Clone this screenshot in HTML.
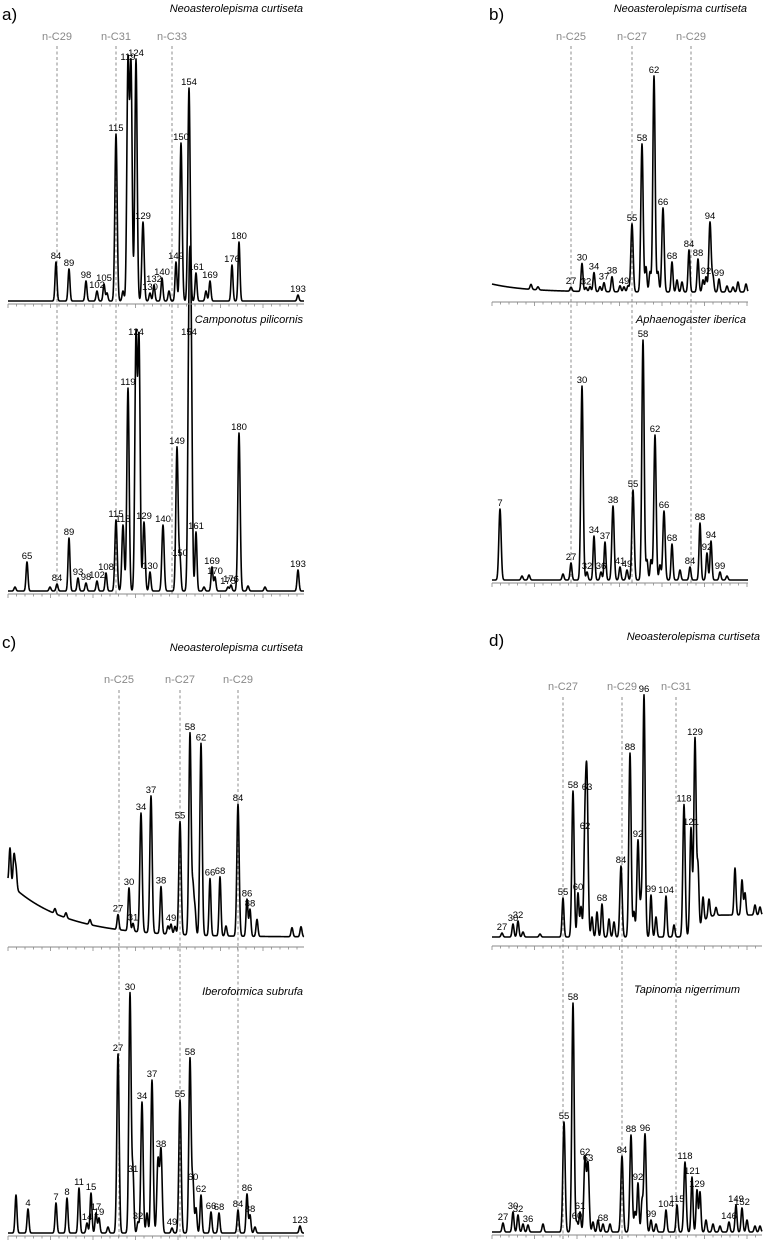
<!DOCTYPE html>
<html><head><meta charset="utf-8"><style>
html,body{margin:0;padding:0;background:#fff}
svg{display:block}
text{font-family:"Liberation Sans",sans-serif}
</style></head><body>
<svg id="fig" width="774" height="1240" viewBox="0 0 774 1240" xmlns="http://www.w3.org/2000/svg"></svg>
<script>
// ---- panel a, top: Neoasterolepisma curtiseta ----
const aTopRt  = [56,69,86,97,104,107,116,123,128,131,136,143,150,154,162,169,176,181,189,196,206,210,232,239,298];
const aTopInt = [39,32,20,10,17,8,167,10,238,234,242,79,8,16,23,10,39,158,213,28,10,20,36,59,6];
const aTopLbl = ['84','89','98','102','105','','115','','119','','124','129','130','132','140','','149','150','154','161','','169','176','180','193'];
// ---- panel a, bottom: Camponotus pilicornis ----
const aBotRt  = [15,27,50,57,69,78,86,97,106,116,123,128,136,139,144,150,163,177,180,189,191,196,204,212,215,228,231,239,248,265,298];
const aBotInt = [4,29,4,7,53,13,8,10,18,71,66,203,253,250,69,19,66,144,32,253,250,59,4,24,14,4,6,158,5,4,21];
const aBotLbl = ['','65','','84','89','93','98','102','108','115','118','119','124','','129','130','140','149','150','154','','161','','169','170','175','176','180','','','193'];
// ---- panel b, top ----
const bTopRt  = [531,538,571,582,586,590,594,600,604,612,620,624,628,632,642,646,650,654,658,663,672,677,682,689,698,703,706,710,713,719,727,733,738,746];
const bTopInt = [5,3,4,28,4,5,19,5,9,15,6,5,6,68,148,25,20,216,20,84,30,12,10,42,33,12,15,70,15,13,6,5,10,8];
const bTopLbl = ['','','27','30','32','','34','','37','38','','49','','55','58','','','62','','66','68','','','84','88','','92','94','','99','','','',''];
// ---- panel b, bottom: Aphaenogaster iberica ----
const bBotRt  = [500,522,529,563,571,582,587,594,601,605,613,620,627,633,643,647,651,655,660,664,672,680,690,700,707,711,720,727];
const bBotInt = [71,4,5,6,17,194,8,44,8,38,74,13,10,90,240,20,20,145,15,69,36,10,13,57,27,39,8,4];
const bBotLbl = ['7','','','','27','30','32','34','36','37','38','41','49','55','58','','','62','','66','68','','84','88','92','94','99',''];
// ---- panel c, top ----
const cTopRt  = [10,14,16,55,66,90,118,129,133,141,151,161,168,171,175,180,190,193,195,201,210,220,226,238,247,250,257,292,301];
const cTopInt = [36,32,20,5,5,5,15,43,8,119,137,47,8,10,8,113,202,45,25,192,57,59,10,132,37,27,17,9,10];
const cTopLbl = ['','','','','','','27','30','31','34','37','38','','49','','55','58','','','62','66','68','','84','86','88','','',''];
// ---- panel c, bottom: Iberoformica subrufa ----
const cBotRt  = [16,28,56,67,79,87,91,96,99,108,118,130,133,138,142,147,152,158,161,172,180,190,193,196,201,211,219,238,247,250,255,300];
const cBotInt = [38,24,30,35,45,10,40,20,15,6,179,240,58,11,131,20,153,73,83,5,133,175,50,25,38,21,20,23,39,18,6,7];
const cBotLbl = ['','4','7','8','11','14','15','17','19','','27','30','31','32','34','','37','','38','49','55','58','60','','62','66','68','84','86','88','','123'];
// ---- panel d, top ----
const dTopRt  = [502,513,518,523,540,563,573,578,581,585,587,592,597,602,609,614,621,630,634,638,641,644,651,656,666,674,684,691,695,698,703,709,716,735,742,745,755,760];
const dTopInt = [4,13,16,5,3,39,146,44,30,105,144,20,25,33,18,15,71,184,25,97,30,242,42,20,41,12,132,107,194,60,25,18,8,47,35,22,10,8];
const dTopLbl = ['27','30','32','','','55','58','60','','62','63','','','68','','','84','88','','92','','96','99','','104','','118','121','129','','','','','','','','',''];
// ---- panel d, bottom: Tapinoma nigerrimum ----
const dBotRt  = [503,513,518,523,528,543,564,573,577,580,585,588,593,598,603,610,622,631,635,638,642,645,651,656,666,677,685,692,697,700,706,713,720,729,736,742,747,755,760];
const dBotInt = [9,20,17,8,7,8,110,229,10,20,74,68,10,12,8,8,76,97,20,49,30,98,12,8,22,27,70,55,42,40,12,8,6,10,27,24,12,6,6];
const dBotLbl = ['27','30','32','','36','','55','58','60','61','62','63','','','68','','84','88','','92','','96','99','','104','115','118','121','129','','','','','146','149','152','','',''];
// n-alkane markers
const aMarkRt = [57,116,172]; const aMarkLbl = ['n-C29','n-C31','n-C33'];
const bMarkRt = [571,632,691]; const bMarkLbl = ['n-C25','n-C27','n-C29'];
const cMarkRt = [119,180,238]; const cMarkLbl = ['n-C25','n-C27','n-C29'];
const dMarkRt = [563,622,676]; const dMarkLbl = ['n-C27','n-C29','n-C31'];

const NS = 'http://www.w3.org/2000/svg';
const svg = document.getElementById('fig');
function mk(tag, attrs, parent){
  const e = document.createElementNS(NS, tag);
  for (const k in attrs) e.setAttribute(k, attrs[k]);
  (parent||svg).appendChild(e);
  return e;
}
function linScale(d0,d1,r0,r1){ return v => r0 + (v-d0)*(r1-r0)/(d1-d0); }

function drawAxis(x0,x1,y,name){
  const g = mk('g',{});
  
  
  mk('line',{x1:x0,x2:x1,y1:y,y2:y,stroke:'#8a8a8a','stroke-width':1},g);
  let i=0;
  for (let x=x0; x<=x1; x+=8.5, i++){
    mk('line',{x1:x,x2:x,y1:y,y2:y+(i%5===0?4:2.5),stroke:'#8a8a8a','stroke-width':0.8},g);
  }
}

function drawChrom(rt, inten, lbl, x0, x1, baseY, baseFn, name){
  const xs = linScale(x0, x1, x0, x1);
  const ys = v => baseY - v;
  const g = mk('g',{});
  
  
  let d = '';
  for (let x=x0; x<=x1; x+=0.25){
    let v = baseFn(x);
    for (let i=0;i<rt.length;i++){
      const px = xs(rt[i]);
      const s = inten[i] > 60 ? 1.15 : 0.95;
      const dx = x-px;
      if (Math.abs(dx) < 7) v += inten[i]*Math.exp(-dx*dx/(2*s*s));
    }
    d += (d?'L':'M') + x.toFixed(2) + ' ' + ys(v).toFixed(2);
  }
  const p = mk('path',{d:d,fill:'none',stroke:'#000','stroke-width':1.6,'stroke-linejoin':'round'},g);
  
  
  for (let i=0;i<rt.length;i++){
    if (!lbl[i]) continue;
    const t = mk('text',{x:xs(rt[i]),y:ys(inten[i]+baseFn(xs(rt[i])))-3,'font-size':9.5,'text-anchor':'middle',fill:'#000'},g);
    t.textContent = lbl[i];
    
    
  }
}

function drawMarkers(rt, lbl, x0, x1, labelY, y0, y1, name){
  const xs = linScale(x0, x1, x0, x1);
  for (let i=0;i<rt.length;i++){
    const x = xs(rt[i]);
    const l = mk('line',{x1:x,x2:x,y1:y0,y2:y1,stroke:'#8c8c8c','stroke-width':1,'stroke-dasharray':'3,2.5'});
    
    
    const t = mk('text',{x:x,y:labelY,'font-size':11,'text-anchor':'middle',fill:'#888'});
    t.textContent = lbl[i];
    
    
  }
}
function txt(x,y,s,size,anchor,style,name,weight){
  const t = mk('text',{x:x,y:y,'font-size':size,'text-anchor':anchor,fill:'#000'});
  if (style) t.setAttribute('font-style', style);
  if (weight) t.setAttribute('font-weight', weight);
  t.textContent = s;
  
  
}

const flat = v => (x => v);

// Panel a
drawMarkers(aMarkRt, aMarkLbl, 8, 304, 40, 46, 596, 'panel-a-alkane');
drawChrom(aTopRt, aTopInt, aTopLbl, 8, 304, 301, flat(0), 'panel-a-top-chromatogram');
drawChrom(aBotRt, aBotInt, aBotLbl, 8, 304, 591, flat(0), 'panel-a-bottom-chromatogram');
drawAxis(8, 304, 304, 'panel-a-top-axis');
drawAxis(8, 304, 594, 'panel-a-bottom-axis');
txt(2, 20, 'a)', 17, 'start', null, 'panel-a-label');
txt(303, 12, 'Neoasterolepisma curtiseta', 11, 'end', 'italic', 'panel-a-top-title');
txt(303, 323, 'Camponotus pilicornis', 11, 'end', 'italic', 'panel-a-bottom-title');

// Panel b
drawMarkers(bMarkRt, bMarkLbl, 492, 748, 40, 46, 585, 'panel-b-alkane');
drawChrom(bTopRt, bTopInt, bTopLbl, 492, 748, 292, x => 8*Math.exp(-(x-492)/35), 'panel-b-top-chromatogram');
drawChrom(bBotRt, bBotInt, bBotLbl, 492, 748, 580, flat(0), 'panel-b-bottom-chromatogram');
drawAxis(492, 748, 302, 'panel-b-top-axis');
drawAxis(492, 748, 583, 'panel-b-bottom-axis');
txt(489, 20, 'b)', 17, 'start', null, 'panel-b-label');
txt(747, 12, 'Neoasterolepisma curtiseta', 11, 'end', 'italic', 'panel-b-top-title');
txt(746, 323, 'Aphaenogaster iberica', 11, 'end', 'italic', 'panel-b-bottom-title');

// Panel c
drawMarkers(cMarkRt, cMarkLbl, 8, 304, 683, 690, 1240, 'panel-c-alkane');
drawChrom(cTopRt, cTopInt, cTopLbl, 8, 304, 937, x => 55*Math.exp(-(x-8)/55), 'panel-c-top-chromatogram');
drawChrom(cBotRt, cBotInt, cBotLbl, 8, 304, 1233, flat(0), 'panel-c-bottom-chromatogram');
drawAxis(8, 304, 947, 'panel-c-top-axis');
drawAxis(8, 304, 1236, 'panel-c-bottom-axis');
txt(2, 648, 'c)', 17, 'start', null, 'panel-c-label');
txt(303, 651, 'Neoasterolepisma curtiseta', 11, 'end', 'italic', 'panel-c-top-title');
txt(303, 995, 'Iberoformica subrufa', 11, 'end', 'italic', 'panel-c-bottom-title');

// Panel d
drawMarkers(dMarkRt, dMarkLbl, 492, 762, 690, 697, 1240, 'panel-d-alkane');
drawChrom(dTopRt, dTopInt, dTopLbl, 492, 762, 937, x => 22/(1+Math.exp(-(x-700)/4)), 'panel-d-top-chromatogram');
drawChrom(dBotRt, dBotInt, dBotLbl, 492, 762, 1232, flat(0), 'panel-d-bottom-chromatogram');
drawAxis(492, 762, 946, 'panel-d-top-axis');
drawAxis(492, 762, 1235, 'panel-d-bottom-axis');
txt(489, 646, 'd)', 17, 'start', null, 'panel-d-label');
txt(760, 640, 'Neoasterolepisma curtiseta', 11, 'end', 'italic', 'panel-d-top-title');
txt(740, 993, 'Tapinoma nigerrimum', 11, 'end', 'italic', 'panel-d-bottom-title');
</script>
</body></html>
